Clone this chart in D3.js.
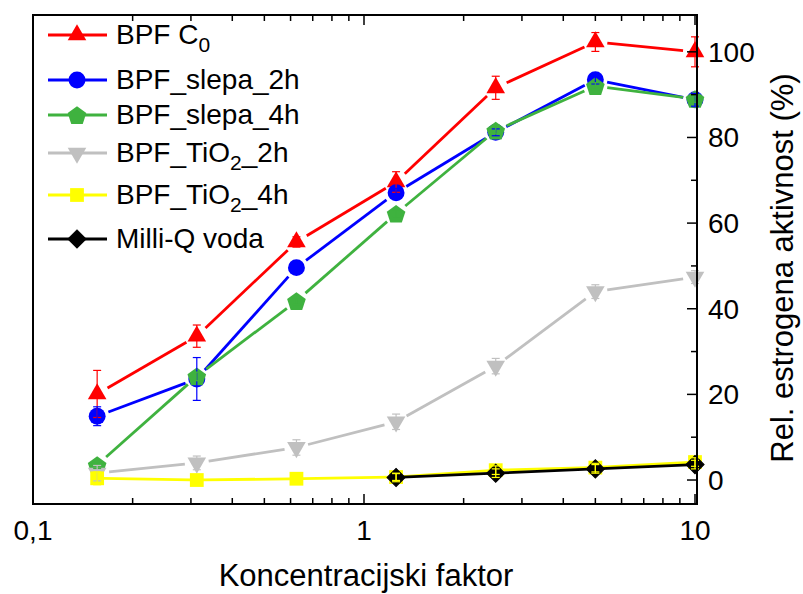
<!DOCTYPE html>
<html>
<head>
<meta charset="utf-8">
<script src="https://cdn.jsdelivr.net/npm/d3@7"></script>
<style>
  body { margin: 0; background: #fff; }
  text { font-family: "Liberation Sans", Arial, sans-serif; fill: #000; }
</style>
</head>
<body>
<script>
// koncentracijski faktor (x values)
const conc = [0.15625, 0.3125, 0.625, 1.25, 2.5, 5, 10];

// rel. estrogena aktivnost (%)
const bpfC0      = [20.1, 33.6, 55.6, 69.6, 91.6, 102.3, 100.0];
const bpfC0Err   = [5.5, 2.6, 1.2, 2.4, 2.7, 2.2, 3.5];
const slepa2h    = [14.9, 23.6, 49.6, 67.1, 81.2, 93.5, 88.8];
const slepa2hErr = [2.2, 5.0, 0.8, 1.0, 0.8, 1.0, 1.5];
const slepa4h    = [3.5, 24.2, 41.8, 62.2, 81.6, 92.0, 89.0];
const slepa4hErr = [0.8, 1.0, 0.8, 0.8, 0.8, 0.8, 0.8];
const tio2h2     = [1.6, 4.0, 7.6, 13.6, 26.6, 44.0, 47.4];
const tio2h2Err  = [1.8, 1.6, 1.8, 1.8, 1.8, 1.6, 1.5];
const tio2h4     = [0.4, 0.0, 0.3, 0.7, 2.3, 2.9, 4.2];
const tio2h4Err  = [1.5, 0.5, 0.5, 0.8, 1.0, 1.0, 1.0];
const milliQ     = [null, null, null, 0.6, 1.6, 2.6, 3.6];
const milliQErr  = [null, null, null, 1.0, 1.0, 1.0, 1.0];

const xTicks = [0.1, 1, 10];
const xTickLabels = ["0,1", "1", "10"];
const yTicks = [0, 20, 40, 60, 80, 100];
const yMinor = [10, 30, 50, 70, 90];

const series = [
  {label: [["BPF C", 0], ["0", 1]], y: bpfC0, err: bpfC0Err, color: "#ff0000", mark: "up"},
  {label: [["BPF_slepa_2h", 0]], y: slepa2h, err: slepa2hErr, color: "#0000ff", mark: "circle"},
  {label: [["BPF_slepa_4h", 0]], y: slepa4h, err: slepa4hErr, color: "#3fb23f", mark: "pentagon"},
  {label: [["BPF_TiO", 0], ["2", 1], ["_2h", 0]], y: tio2h2, err: tio2h2Err, color: "#c0c0c0", mark: "down"},
  {label: [["BPF_TiO", 0], ["2", 1], ["_4h", 0]], y: tio2h4, err: tio2h4Err, color: "#ffff00", mark: "square"},
  {label: [["Milli-Q voda", 0]], y: milliQ, err: milliQErr, color: "#000000", mark: "diamond"}
];

const W = 803, H = 594;
const mLeft = 33, mRight = 697, mTop = 15, mBottom = 504;

const svg = d3.select("body").append("svg")
    .attr("width", W)
    .attr("height", H);

const x = d3.scaleLog().domain([0.1, 10.14]).range([mLeft, mRight]);
const y = d3.scaleLinear().domain([-5.6, 108.6]).range([mBottom, mTop]);

// marker shapes
function markerPath(type) {
  if (type === "up") return d3.symbol(d3.symbolTriangle, 150)();
  if (type === "down") return d3.symbol(d3.symbolTriangle, 150)();
  if (type === "circle") return d3.symbol(d3.symbolCircle, 225)();
  if (type === "square") return d3.symbol(d3.symbolSquare, 190)();
  if (type === "diamond") return d3.symbol(d3.symbolSquare, 165)();
  if (type === "pentagon") {
    const r = 9.8;
    const pts = d3.range(5).map(i => {
      const a = -Math.PI / 2 + i * 2 * Math.PI / 5;
      return [r * Math.cos(a), r * Math.sin(a) + 1];
    });
    return "M" + pts.join("L") + "Z";
  }
}
function markerRot(type) {
  if (type === "down") return 180;
  if (type === "diamond") return 45;
  return 0;
}

function drawMarker(g, type, color, px, py) {
  g.append("path")
      .attr("d", markerPath(type))
      .attr("transform", `translate(${px},${py}) rotate(${markerRot(type)})`)
      .attr("fill", color)
      .attr("stroke", type === "diamond" ? "#000" : "none");
}

const plot = svg.append("g");

// lines with small gaps at the markers
const gap = 12;
series.forEach(s => {
  const pts = conc.map((c, i) => s.y[i] == null ? null : [x(c), y(s.y[i])]);
  for (let i = 0; i < pts.length - 1; i++) {
    const a = pts[i], b = pts[i + 1];
    if (!a || !b) continue;
    const dx = b[0] - a[0], dy = b[1] - a[1];
    const len = Math.hypot(dx, dy);
    const g2 = s.mark === "diamond" || s.mark === "square" ? 6 : gap;
    if (len < 2 * g2) continue;
    const ux = dx / len, uy = dy / len;
    plot.append("line")
        .attr("x1", a[0] + ux * g2).attr("y1", a[1] + uy * g2)
        .attr("x2", b[0] - ux * g2).attr("y2", b[1] - uy * g2)
        .attr("stroke", s.color)
        .attr("stroke-width", 2.8);
  }
});

// markers
series.forEach(s => {
  conc.forEach((c, i) => {
    if (s.y[i] == null) return;
    drawMarker(plot, s.mark, s.color, x(c), y(s.y[i]));
  });
});

// error bars on top
series.forEach(s => {
  conc.forEach((c, i) => {
    if (s.y[i] == null) return;
    const px = x(c), y1 = y(s.y[i] + s.err[i]), y2 = y(s.y[i] - s.err[i]);
    const col = s.mark === "diamond" ? "#ffff00" : s.color;
    plot.append("line").attr("x1", px).attr("x2", px).attr("y1", y1).attr("y2", y2)
        .attr("stroke", col).attr("stroke-width", 1.2);
    [y1, y2].forEach(yy => {
      plot.append("line").attr("x1", px - 4).attr("x2", px + 4).attr("y1", yy).attr("y2", yy)
          .attr("stroke", col).attr("stroke-width", 1.2);
    });
  });
});

// frame
svg.append("rect")
    .attr("x", mLeft).attr("y", mTop)
    .attr("width", mRight - mLeft).attr("height", mBottom - mTop)
    .attr("fill", "none").attr("stroke", "#000").attr("stroke-width", 2);

// x axis ticks (inward), bottom and top
const xMinor = [];
[0.1, 1].forEach(dec => d3.range(2, 10).forEach(k => xMinor.push(dec * k)));
const axG = svg.append("g").attr("stroke", "#000").attr("stroke-width", 1.5);
xTicks.forEach(t => {
  axG.append("line").attr("x1", x(t)).attr("x2", x(t)).attr("y1", mBottom).attr("y2", mBottom - 10);
  axG.append("line").attr("x1", x(t)).attr("x2", x(t)).attr("y1", mTop).attr("y2", mTop + 10);
});
xMinor.forEach(t => {
  axG.append("line").attr("x1", x(t)).attr("x2", x(t)).attr("y1", mBottom).attr("y2", mBottom - 6);
  axG.append("line").attr("x1", x(t)).attr("x2", x(t)).attr("y1", mTop).attr("y2", mTop + 6);
});
// right y axis ticks (inward)
yTicks.forEach(t => {
  axG.append("line").attr("x1", mRight).attr("x2", mRight - 10).attr("y1", y(t)).attr("y2", y(t));
});
yMinor.forEach(t => {
  axG.append("line").attr("x1", mRight).attr("x2", mRight - 6).attr("y1", y(t)).attr("y2", y(t));
});

// tick labels
xTicks.forEach((t, i) => {
  svg.append("text")
      .attr("x", x(t)).attr("y", 540)
      .attr("text-anchor", "middle")
      .attr("font-size", 28)
      .text(xTickLabels[i]);
});
yTicks.forEach(t => {
  svg.append("text")
      .attr("x", 708).attr("y", y(t) + 10)
      .attr("font-size", 28)
      .text(t);
});

// axis titles
svg.append("text")
    .attr("x", 366).attr("y", 586)
    .attr("text-anchor", "middle")
    .attr("font-size", 31)
    .text("Koncentracijski faktor");
svg.append("text")
    .attr("transform", "translate(793,268) rotate(-90)")
    .attr("text-anchor", "middle")
    .attr("font-size", 31)
    .text("Rel. estrogena aktivnost (%)");

// legend
const legendY = [35, 80, 115, 153, 195, 239];
const leg = svg.append("g");
series.forEach((s, i) => {
  const ly = legendY[i];
  leg.append("line").attr("x1", 48).attr("x2", 107).attr("y1", ly).attr("y2", ly)
      .attr("stroke", s.color).attr("stroke-width", 2.8);
  drawMarker(leg, s.mark, s.color, 77, ly);
  const t = leg.append("text").attr("x", 116).attr("y", ly + 9).attr("font-size", 28);
  s.label.forEach((p, j) => {
    t.append("tspan")
        .attr("font-size", p[1] ? 21 : 28)
        .attr("dy", p[1] ? 8 : (j > 0 ? -8 : 0))
        .text(p[0]);
  });
});
</script>
</body>
</html>
